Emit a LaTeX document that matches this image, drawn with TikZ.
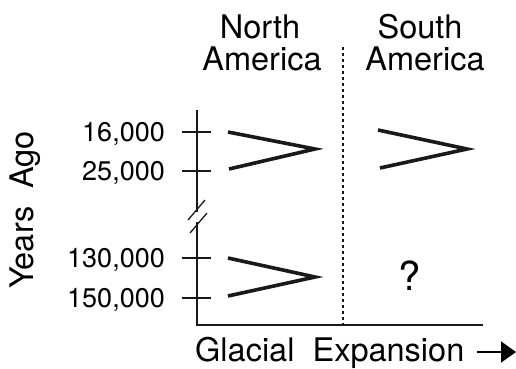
\documentclass[tikz,border=0pt]{standalone}
\usepackage{fontspec}
\setmainfont{TeX Gyre Heros}
\usetikzlibrary{arrows.meta}
\begin{document}
\begin{tikzpicture}[x=1pt,y=-1pt,
  lbl/.style={inner sep=0pt,font=\fontsize{32.5}{32}\selectfont},
  num/.style={inner sep=0pt,anchor=base east,font=\fontsize{27}{26}\selectfont},
  axisline/.style={line width=1.6pt,black!90},
  tickline/.style={line width=1.3pt,black!90},
  vee/.style={line width=3.6pt,black!90,line join=miter},
  divider/.style={line width=1.5pt,black!90,dash pattern=on 3pt off 3pt}]
\useasboundingbox (0,0) rectangle (516,368);
% axes
\coordinate (ytop) at (197,110);
\coordinate (origin) at (197,325);
\coordinate (xend) at (483,325);
\draw[axisline] (ytop) -- (origin) -- (xend);
% break marks
\draw[tickline,white,line width=4pt] (197,212) -- (197,222);
\draw[tickline] (188,220) -- (205,200);
\draw[tickline] (190,233) -- (207,213);
% ticks
\foreach \yy/\nm in {132/a,171/b,258/c,298/d}{
  \coordinate (t\nm l) at (182,\yy);
  \coordinate (t\nm r) at (211,\yy);
  \draw[tickline] (t\nm l) -- (t\nm r);
}
\node[num] (n16) at (165,141) {16,000};
\node[num] (n25) at (165,180) {25,000};
\node[num] (n130) at (165,267) {130,000};
\node[num] (n150) at (165,307) {150,000};
% divider
\coordinate (dtop) at (343,47);
\coordinate (dbot) at (343,325);
\draw[divider] (dtop) -- (dbot);
% vees
\draw[vee] (228,132) -- (315,149) -- (229,169);
\draw[vee] (228,258) -- (315,277) -- (228,296);
\draw[vee] (378,130) -- (467,149) -- (380,168);
% headings
\node[lbl,anchor=base] (na1) at (260,38) {North};
\node[lbl,anchor=base] (na2) at (262,70) {America};
\node[lbl,anchor=base] (sa1) at (420,38) {South};
\node[lbl,anchor=base] (sa2) at (425,70) {America};
\node[inner sep=0pt,anchor=base,font=\fontsize{40}{40}\selectfont] (q) at (410,290) {?};
\node[lbl,rotate=90,anchor=center] (ya) at (25,210) {Years\ \ Ago};
\node[lbl,anchor=base west] (ge) at (195,361) {Glacial\ \ Expansion};
\coordinate (as) at (477,352);
\coordinate (ae) at (516,352);
\draw[line width=1.6pt,-{Triangle[length=15pt,width=21pt]}] (as) -- (ae);
\end{tikzpicture}
\end{document}
